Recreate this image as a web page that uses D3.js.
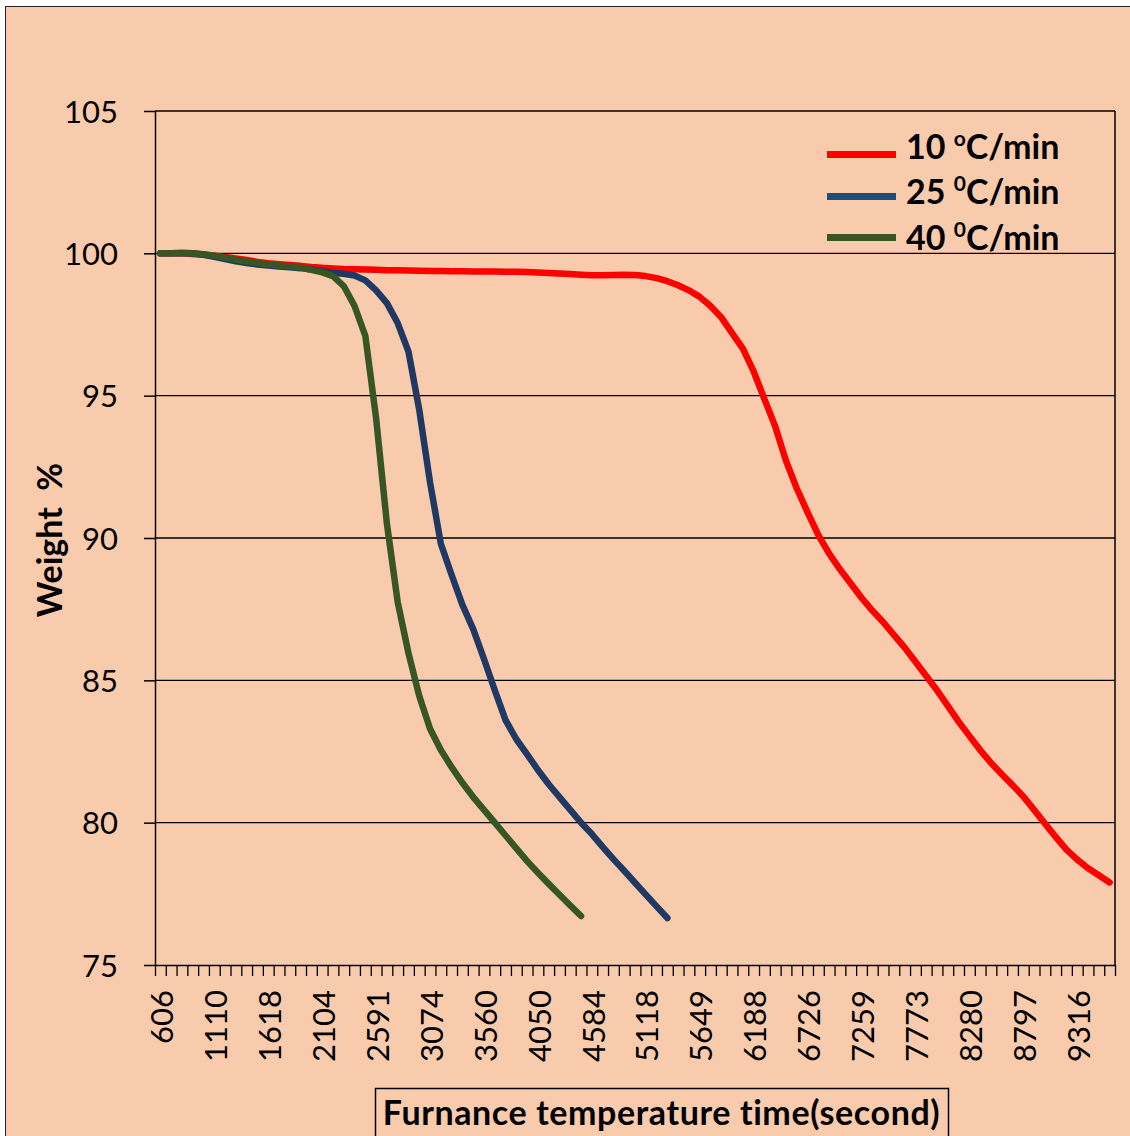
<!DOCTYPE html>
<html>
<head>
<meta charset="utf-8">
<script src="https://cdn.jsdelivr.net/npm/d3@7"></script>
<style>
  html, body { margin: 0; padding: 0; background: #fff; overflow: hidden; }
  svg { display: block; }
  text { font-family: Lato, "Open Sans", sans-serif; fill: #000; }
</style>
</head>
<body>
<svg id="chart" width="1130" height="1136"></svg>
<script>
// Furnace run: one reading per category step, labelled every fifth step.
const sampleCount = 89;
const labelStep = 5;
const timeLabels = ["606", "1110", "1618", "2104", "2591", "3074", "3560", "4050", "4584",
                    "5118", "5649", "6188", "6726", "7259", "7773", "8280", "8797", "9316"];
const weightTicks = [75, 80, 85, 90, 95, 100, 105];

// Weight % at each step, per heating rate
const rate10 = [
  100.0, 100.0, 100.0, 99.98, 99.95, 99.92, 99.87, 99.82, 99.77, 99.7,
  99.65, 99.62, 99.59, 99.56, 99.52, 99.49, 99.47, 99.45, 99.44, 99.43,
  99.42, 99.41, 99.41, 99.4, 99.39, 99.38, 99.38, 99.37, 99.37, 99.36,
  99.36, 99.36, 99.35, 99.35, 99.34, 99.33, 99.31, 99.29, 99.27, 99.25,
  99.23, 99.23, 99.24, 99.25, 99.24, 99.2, 99.13, 99.02, 98.88, 98.7,
  98.47, 98.15, 97.75, 97.2, 96.65, 95.85, 94.88, 93.92, 92.71, 91.74,
  90.9, 90.1, 89.45, 88.9, 88.4, 87.9, 87.45, 87.05, 86.6, 86.15,
  85.65, 85.15, 84.65, 84.1, 83.55, 83.05, 82.55, 82.1, 81.7, 81.32,
  80.92, 80.45, 79.97, 79.5, 79.05, 78.7, 78.4, 78.15, 77.9
];
const rate25 = [
  100.0, 100.0, 100.0, 100.0, 99.95, 99.88, 99.8, 99.72, 99.66, 99.61,
  99.57, 99.54, 99.51, 99.48, 99.43, 99.37, 99.31, 99.28, 99.22, 99.05,
  98.7, 98.25, 97.55, 96.55, 94.5, 91.95, 89.8, 88.7, 87.65, 86.8,
  85.75, 84.65, 83.6, 82.93, 82.4, 81.85, 81.35, 80.9, 80.45, 80.0,
  79.6, 79.15, 78.72, 78.31, 77.89, 77.47, 77.06, 76.65
];
const rate40 = [
  100.0, 100.0, 100.02, 100.0, 99.97, 99.92, 99.85, 99.78, 99.71, 99.66,
  99.61, 99.57, 99.54, 99.5, 99.42, 99.33, 99.2, 98.85, 98.15, 97.1,
  94.2, 90.5, 87.75, 85.95, 84.45, 83.3, 82.55, 81.95, 81.4, 80.9,
  80.45, 80.0, 79.55, 79.1, 78.65, 78.24, 77.85, 77.47, 77.09, 76.72
];

const seriesRates = ["10 ", "25 ", "40 "];
const seriesDegree = ["o", "0", "0"];
const seriesColors = ["#FF0000", "#1F3864", "#375623"];
const legendColors = ["#FF0000", "#1F4E79", "#375623"];

const svg = d3.select("#chart");
const plot = { left: 155, right: 1115, top: 111, bottom: 965 };

// chart area
svg.append("rect")
  .attr("x", 5.5).attr("y", 6.5)
  .attr("width", 1200).attr("height", 1200)
  .attr("fill", "#F8CBAD")
  .attr("stroke", "#262626").attr("stroke-width", 1);

const x = d3.scaleLinear().domain([0, sampleCount]).range([plot.left, plot.right]);
const y = d3.scaleLinear().domain([75, 105]).range([plot.bottom, plot.top]);

// horizontal gridlines
svg.append("g")
  .selectAll("line")
  .data(weightTicks.filter(v => v > 75))
  .join("line")
  .attr("x1", plot.left).attr("x2", plot.right)
  .attr("y1", d => y(d)).attr("y2", d => y(d))
  .attr("stroke", "#000").attr("stroke-width", 1.3);

// right edge of plot area
svg.append("line")
  .attr("x1", plot.right).attr("x2", plot.right)
  .attr("y1", plot.top).attr("y2", plot.bottom)
  .attr("stroke", "#000").attr("stroke-width", 1.5);

// y axis
const gy = svg.append("g")
  .attr("transform", `translate(${plot.left},0)`)
  .call(d3.axisLeft(y).tickValues(weightTicks).tickSize(11).tickSizeOuter(0)
    .tickPadding(26).tickFormat(d3.format("d")));
gy.select(".domain").attr("stroke", "#000").attr("stroke-width", 1.5);
gy.selectAll(".tick line").attr("stroke", "#000").attr("stroke-width", 1.5);
gy.selectAll(".tick text")
  .attr("dy", "0.36em")
  .style("font-family", "Lato, sans-serif")
  .style("font-size", "31px");

// x axis: tick marks between categories
const gx = svg.append("g")
  .attr("transform", `translate(0,${plot.bottom})`)
  .call(d3.axisBottom(x).tickValues(d3.range(0, sampleCount + 1)).tickSize(11)
    .tickSizeOuter(0).tickFormat(""));
gx.select(".domain").attr("stroke", "#000").attr("stroke-width", 1.5);
gx.selectAll(".tick line").attr("stroke", "#000").attr("stroke-width", 1.3);

// x axis: category labels, every fifth step
const labelIdx = d3.range(0, sampleCount, labelStep).slice(0, timeLabels.length);
const gxl = svg.append("g")
  .attr("transform", `translate(0,${plot.bottom})`)
  .call(d3.axisBottom(x).tickValues(labelIdx.map(i => i + 0.5)).tickSize(0)
    .tickFormat((d, k) => timeLabels[k]));
gxl.select(".domain").remove();
gxl.selectAll(".tick text")
  .attr("transform", "rotate(-90)")
  .attr("x", -25).attr("y", 1).attr("dy", "0.36em")
  .style("text-anchor", "end")
  .style("font-family", "Lato, sans-serif")
  .style("font-size", "31px");

// series lines
const line = d3.line()
  .x((d, i) => x(i + 0.5))
  .y(d => y(d));

[rate10, rate25, rate40].forEach((values, k) => {
  svg.append("path")
    .datum(values)
    .attr("d", line)
    .attr("fill", "none")
    .attr("stroke", seriesColors[k])
    .attr("stroke-width", 6.5)
    .attr("stroke-linejoin", "round")
    .attr("stroke-linecap", "round");
});

// legend
const legendLineY = [154.5, 196.5, 237.5];
const legendTextY = [158.5, 203.5, 249.5];
const legend = svg.append("g");
seriesRates.forEach((rate, k) => {
  legend.append("line")
    .attr("x1", 827).attr("x2", 896)
    .attr("y1", legendLineY[k]).attr("y2", legendLineY[k])
    .attr("stroke", legendColors[k]).attr("stroke-width", 7);
  const t = legend.append("text")
    .attr("x", 906).attr("y", legendTextY[k])
    .style("font-weight", "bold")
    .style("font-size", "34px")
    .style("white-space", "pre");
  t.append("tspan").text(rate);
  t.append("tspan").attr("dy", -13).style("font-size", "21px").text(seriesDegree[k]);
  t.append("tspan").attr("dy", 13).text("C/min");
});

// y axis title
svg.append("text")
  .attr("transform", "translate(62,540) rotate(-90)")
  .attr("text-anchor", "middle")
  .style("font-weight", "bold")
  .style("font-size", "34px")
  .style("white-space", "pre")
  .text("Weight  %");

// x axis title in its box
svg.append("rect")
  .attr("x", 375.5).attr("y", 1088.5)
  .attr("width", 573).attr("height", 100)
  .attr("fill", "none").attr("stroke", "#000").attr("stroke-width", 1.5);
svg.append("text")
  .attr("x", 661.5).attr("y", 1125)
  .attr("text-anchor", "middle")
  .style("font-weight", "bold")
  .style("font-size", "34px")
  .style("letter-spacing", "0.6px")
  .text("Furnance temperature time(second)");
</script>
</body>
</html>
